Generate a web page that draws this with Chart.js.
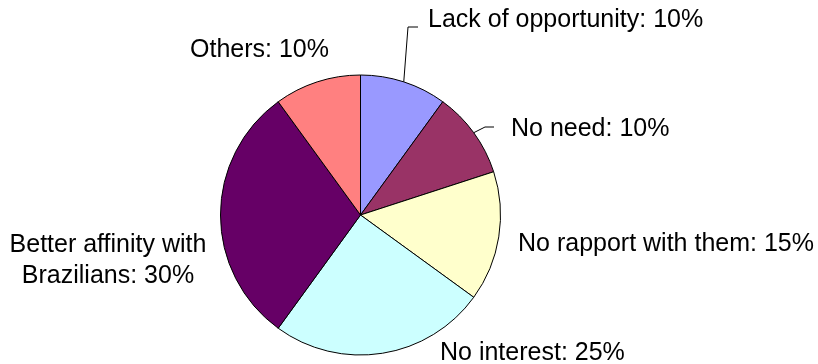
<!DOCTYPE html>
<html>
<head>
<meta charset="utf-8">
<script src="https://cdn.jsdelivr.net/npm/chart.js@4.4.1/dist/chart.umd.min.js"></script>
<style>
  html, body { margin: 0; padding: 0; background: #fff; }
  #wrap { position: relative; width: 818px; height: 364px; }
</style>
</head>
<body>
<div id="wrap"><canvas id="pieChart" width="818" height="364"></canvas></div>
<script>
const categories = [
  "Lack of opportunity",
  "No need",
  "No rapport with them",
  "No interest",
  ["Better affinity with", "Brazilians"],
  "Others"
];
const shares = [10, 10, 15, 25, 30, 10];
const colors = ["#9999FF", "#993366", "#FFFFCC", "#CCFFFF", "#660066", "#FF8080"];

// where each label sits (text anchor x, baseline y), plus leader elbow if any
const labelLayout = [
  { x: 428, y: 27, align: "left", elbow: [408, 27], end: [418, 27] },
  { x: 511, y: 136, align: "left", elbow: [485, 127], end: [494, 127] },
  { x: 518, y: 251, align: "left" },
  { x: 440, y: 360, align: "left" },
  { x: 108, y: 252, align: "center" },
  { x: 190, y: 57, align: "left" }
];

const FONT = "25px 'Liberation Sans', Arial, sans-serif";

const pieLabels = {
  id: "pieLabels",
  afterDraw(chart) {
    const ctx = chart.ctx;
    const arcs = chart.getDatasetMeta(0).data;
    ctx.save();
    ctx.font = FONT;
    ctx.fillStyle = "#000";
    ctx.textBaseline = "alphabetic";
    arcs.forEach((arc, i) => {
      const lay = labelLayout[i];
      if (lay.elbow) {
        const mid = (arc.startAngle + arc.endAngle) / 2;
        const px = arc.x + Math.cos(mid) * arc.outerRadius;
        const py = arc.y + Math.sin(mid) * arc.outerRadius;
        ctx.beginPath();
        ctx.strokeStyle = "#000";
        ctx.lineWidth = 1;
        ctx.moveTo(px, py);
        ctx.lineTo(lay.elbow[0], lay.elbow[1]);
        ctx.lineTo(lay.end[0], lay.end[1]);
        ctx.stroke();
      }
      ctx.textAlign = lay.align;
      const cat = categories[i];
      const pct = ": " + shares[i] + "%";
      if (Array.isArray(cat)) {
        ctx.fillText(cat[0], lay.x, lay.y);
        ctx.fillText(cat[1] + pct, lay.x, lay.y + 31);
      } else {
        ctx.fillText(cat + pct, lay.x, lay.y);
      }
    });
    ctx.restore();
  }
};

new Chart(document.getElementById("pieChart"), {
  type: "pie",
  data: {
    labels: categories.map(c => Array.isArray(c) ? c.join(" ") : c),
    datasets: [{
      data: shares,
      backgroundColor: colors,
      borderColor: "#000",
      borderWidth: 1,
      borderAlign: "center"
    }]
  },
  options: {
    responsive: false,
    animation: false,
    layout: { padding: { left: 220, right: 317, top: 74, bottom: 8 } },
    plugins: {
      legend: { display: false },
      tooltip: { enabled: false }
    }
  },
  plugins: [pieLabels]
});
</script>
</body>
</html>
